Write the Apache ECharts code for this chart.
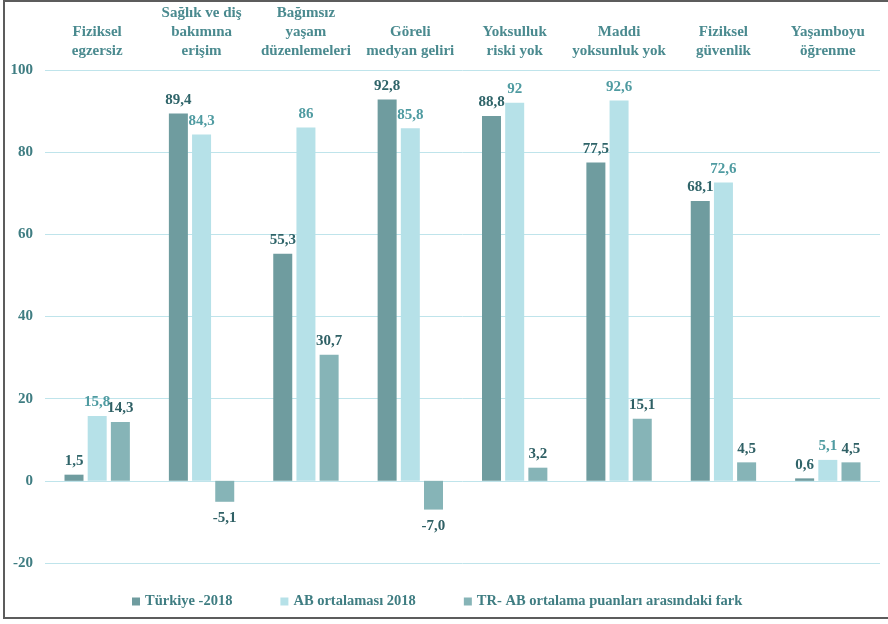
<!DOCTYPE html>
<html><head><meta charset="utf-8">
<script src="https://cdn.jsdelivr.net/npm/echarts@6/dist/echarts.min.js"></script>
<style>html,body{margin:0;padding:0;background:#fff;overflow:hidden}
#frame{position:absolute;left:3px;top:0;width:900px;height:619px;border:2px solid #5c5c5c;box-sizing:border-box}
#c{position:absolute;left:0;top:0;width:888px;height:624px}</style>
</head><body><div id="frame"></div><div id="c"></div>
<script>
const categories = ['Fiziksel\negzersiz','Sağlık ve diş\nbakımına\nerişim','Bağımsız\nyaşam\ndüzenlemeleri','Göreli\nmedyan geliri','Yoksulluk\nriski yok','Maddi\nyoksunluk yok','Fiziksel\ngüvenlik','Yaşamboyu\nöğrenme'];
const seriesNames = ['Türkiye -2018','AB ortalaması 2018','TR- AB ortalama puanları arasındaki fark'];
const turkiye = [1.5, 89.4, 55.3, 92.8, 88.8, 77.5, 68.1, 0.6];
const ab = [15.8, 84.3, 86, 85.8, 92, 92.6, 72.6, 5.1];
const fark = [14.3, -5.1, 30.7, -7.0, 3.2, 15.1, 4.5, 4.5];

const serif = '"Liberation Serif","DejaVu Serif",serif';
function lbl(color, fixed){
  return {show:true, position:'top', distance:6, color:color, fontFamily:serif, fontWeight:'bold', fontSize:15,
    formatter:p => (fixed ? p.value.toFixed(1) : String(p.value)).replace('.',',')};
}
function mk(arr){
  return arr.map(v => v < 0 ? {value:v, label:{position:'bottom', distance:9}} : v);
}
const chart = echarts.init(document.getElementById('c'));
chart.setOption({
  animation:false,
  grid:{left:45, right:8, top:70, bottom:61},
  legend:{left:127, top:589, itemWidth:8, itemHeight:8, itemGap:48, icon:'rect',
    textStyle:{fontFamily:serif, fontWeight:'bold', fontSize:14.5, color:'#3f7d82'},
    data:seriesNames},
  xAxis:{type:'category', data:categories, position:'top',
    axisLine:{show:false}, axisTick:{show:false},
    axisLabel:{margin:9, fontFamily:serif, fontWeight:'bold', fontSize:15, lineHeight:19, color:'#4a8a8f', verticalAlign:'bottom', interval:0}},
  yAxis:{type:'value', min:-20, max:100, interval:20,
    axisLine:{show:false}, axisTick:{show:false},
    splitLine:{lineStyle:{color:'#bfe4eb', width:1}},
    axisLabel:{margin:12, fontFamily:serif, fontWeight:'bold', fontSize:15, color:'#3f7d82'}},
  series:[
    {name:seriesNames[0], type:'bar', data:mk(turkiye), barWidth:19, barGap:'22%', itemStyle:{color:'#6f9c9f'}, label:lbl('#2f6469', true)},
    {name:seriesNames[1], type:'bar', data:mk(ab), barWidth:19, itemStyle:{color:'#b6e1e8'}, label:lbl('#4f9ba1', false)},
    {name:seriesNames[2], type:'bar', data:mk(fark), barWidth:19, itemStyle:{color:'#86b4b7'}, label:lbl('#2f6065', true)}
  ]
});
</script></body></html>
